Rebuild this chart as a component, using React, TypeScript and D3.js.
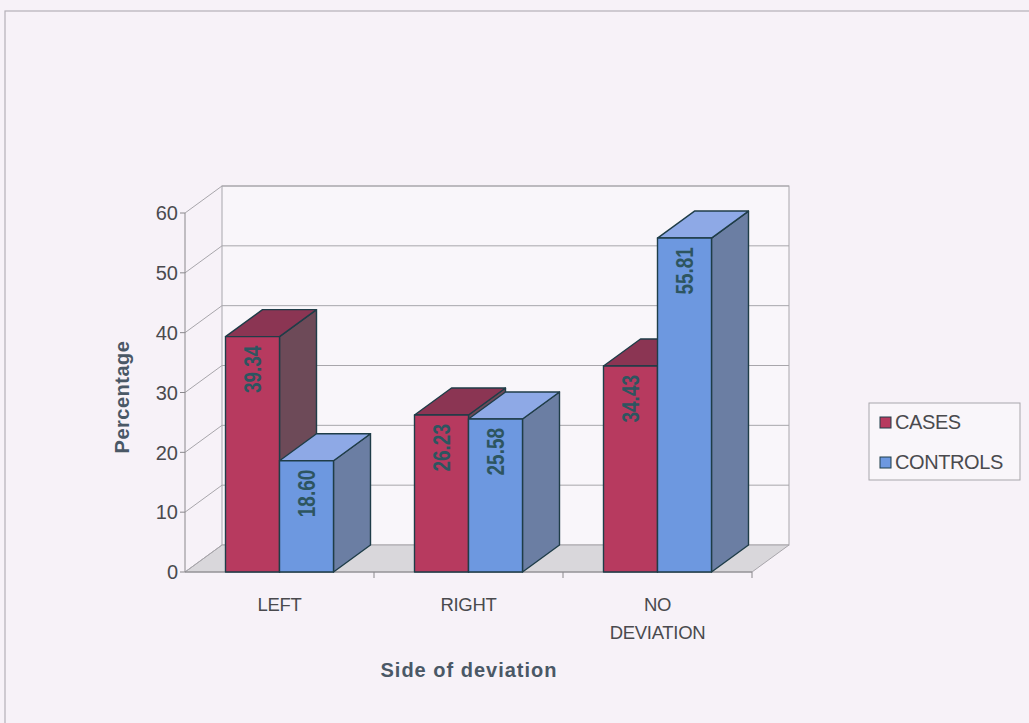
import React from "react";
import * as d3 from "d3";

const categories = ["LEFT", "RIGHT", "NO DEVIATION"];
const categoryLines = [["LEFT"], ["RIGHT"], ["NO", "DEVIATION"]];
const seriesNames = ["CASES", "CONTROLS"];
const casesValues = [39.34, 26.23, 34.43];
const controlsValues = [18.6, 25.58, 55.81];
const yTicks = [0, 10, 20, 30, 40, 50, 60];

const DX = 37;
const DY = -27;

const palette: Record<string, { front: string; top: string; side: string }> = {
  CASES: { front: "#b73a5f", top: "#8b3553", side: "#6d4a58" },
  CONTROLS: { front: "#6d98e0", top: "#8ea9e6", side: "#6b7ea3" },
};

export default function App() {
  const x = d3.scaleBand<string>().domain(categories).range([185, 752]).paddingInner(0.4286).paddingOuter(0.2143);
  const inner = d3.scaleBand<string>().domain(seriesNames).range([0, x.bandwidth()]);
  const y = d3.scaleLinear().domain([0, 60]).range([572, 213]);
  const x0 = 185;
  const x1 = 752;
  const step = x.step();
  const boundaries = categories.map((c) => (x(c) as number) + x.bandwidth() / 2 + step / 2);

  const bars: { cat: string; s: string; v: number }[] = [];
  categories.forEach((c, i) => {
    bars.push({ cat: c, s: "CASES", v: casesValues[i] });
    bars.push({ cat: c, s: "CONTROLS", v: controlsValues[i] });
  });

  const edge = "#1f3d48";
  const pts = (p: number[][]) => p.map((q) => q.join(",")).join(" ");

  return (
    <svg width={1029} height={723} style={{ position: "absolute", left: 0, top: 0, display: "block" }}
      fontFamily="'Liberation Sans', Arial, sans-serif">
      <rect x={0} y={0} width={1029} height={723} fill="#f7f2f8" />
      <rect x={5} y={11} width={1040} height={730} fill="#f7f2f8" stroke="#b4b0b8" strokeWidth={1.2} />
      {/* back wall */}
      <rect x={x0 + DX} y={y(60) + DY} width={x1 - x0} height={y(0) - y(60)} fill="#f9f6fa" stroke="#a8a6ab" strokeWidth={1} />
      {/* floor */}
      <polygon points={pts([[x0, y(0)], [x0 + DX, y(0) + DY], [x1 + DX, y(0) + DY], [x1, y(0)]])} fill="#d9d7db" stroke="#a8a6ab" strokeWidth={1} />
      {/* gridlines on back wall and left wall */}
      {yTicks.map((t) => (
        <g key={t}>
          {t > 0 && <line x1={x0 + DX} x2={x1 + DX} y1={y(t) + DY} y2={y(t) + DY} stroke="#a8a6ab" strokeWidth={1} />}
          <line x1={x0} x2={x0 + DX} y1={y(t)} y2={y(t) + DY} stroke="#a8a6ab" strokeWidth={1} />
          <line x1={x0 - 5} x2={x0} y1={y(t)} y2={y(t)} stroke="#8a888c" strokeWidth={1} />
          <text x={x0 - 7} y={y(t)} dy="0.36em" textAnchor="end" fontSize={20} fill="#4a4a4e">{t}</text>
        </g>
      ))}
      {/* axes */}
      <line x1={x0} x2={x0} y1={y(60)} y2={y(0)} stroke="#8a888c" strokeWidth={1} />
      <line x1={x0} x2={x1} y1={y(0)} y2={y(0)} stroke="#8a888c" strokeWidth={1} />
      {boundaries.map((b, i) => (
        <line key={i} x1={b} x2={b} y1={y(0)} y2={y(0) + 6} stroke="#8a888c" strokeWidth={1} />
      ))}
      {/* bars */}
      {bars.map((d, i) => {
        const bx = (x(d.cat) as number) + (inner(d.s) as number);
        const bw = inner.bandwidth();
        const yt = y(d.v);
        const yb = y(0);
        const col = palette[d.s];
        return (
          <g key={i} stroke={edge} strokeWidth={1.4} strokeLinejoin="round">
            <polygon points={pts([[bx + bw, yt], [bx + bw + DX, yt + DY], [bx + bw + DX, yb + DY], [bx + bw, yb]])} fill={col.side} />
            <polygon points={pts([[bx, yt], [bx + DX, yt + DY], [bx + bw + DX, yt + DY], [bx + bw, yt]])} fill={col.top} />
            <rect x={bx} y={yt} width={bw} height={yb - yt} fill={col.front} />
          </g>
        );
      })}
      {/* value labels */}
      {bars.map((d, i) => {
        const bx = (x(d.cat) as number) + (inner(d.s) as number) + inner.bandwidth() / 2;
        const yt = y(d.v);
        return (
          <text key={i} transform={`translate(${bx},${yt + 9}) rotate(-90) scale(1,1.3)`} textAnchor="end" dy="0.36em"
            fontSize={19} fontWeight="bold" fill="#2d5560">{d.v.toFixed(2)}</text>
        );
      })}
      {/* category labels */}
      {categories.map((c, i) => (
        <text key={c} x={(x(c) as number) + x.bandwidth() / 2} y={611} textAnchor="middle" fontSize={18.5} fill="#4a4a4e" letterSpacing={-0.3}>
          {categoryLines[i].map((l, j) => (
            <tspan key={j} x={(x(c) as number) + x.bandwidth() / 2} dy={j === 0 ? 0 : 28}>{l}</tspan>
          ))}
        </text>
      ))}
      {/* axis titles */}
      <text x={469} y={677} textAnchor="middle" fontSize={20} fontWeight="bold" fill="#4a5866" letterSpacing={1}>Side of deviation</text>
      <text transform="translate(129,397) rotate(-90)" textAnchor="middle" fontSize={20} fontWeight="bold" fill="#4a5866" letterSpacing={0.5}>Percentage</text>
      {/* legend */}
      <rect x={869} y={403} width={151} height={77} fill="#f9f6fa" stroke="#a8a6ab" strokeWidth={1} />
      {seriesNames.map((s, i) => (
        <g key={s}>
          <rect x={880} y={417 + i * 40} width={11} height={11} fill={palette[s].front} stroke={edge} strokeWidth={1} />
          <text x={895} y={429 + i * 40} fontSize={20} fill="#4a4a4e" letterSpacing={-0.4}>{s}</text>
        </g>
      ))}
    </svg>
  );
}
